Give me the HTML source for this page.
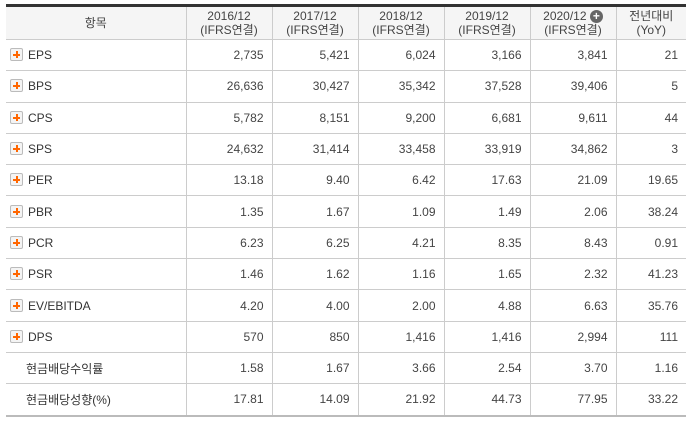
<!DOCTYPE html>
<html><head><meta charset="utf-8">
<style>
body{margin:0;background:#fff;width:696px;height:422px;overflow:hidden;font-family:"Liberation Sans","Noto Sans CJK KR",sans-serif;font-size:12px;color:#333}
table{position:absolute;left:6px;top:4px;width:680px;border-collapse:collapse;table-layout:fixed;border-top:3px solid #333;border-bottom:2px solid #bbb}
th{background:#f5f5f5;font-weight:normal;height:32px;line-height:14px;border-bottom:1px solid #ccc;border-left:1px solid #ccc;color:#444;padding:0}
th:first-child{border-left:none}
td{height:30.3px;border-bottom:1px solid #ccc;border-left:1px solid #ccc;text-align:right;padding:0 8px 0 0;color:#444}
td:first-child{border-left:none;text-align:left;padding-left:4px;color:#333}
td.ni:first-child{padding-left:20px}
.pl{display:inline-block;width:11px;height:11px;border:1px solid #bbb;border-radius:2px;background:#f4f4f4;vertical-align:-2px;margin-right:5px;position:relative}
.pl:before{content:"";position:absolute;left:2px;top:5px;width:7px;height:2px;background:#f60}
.pl:after{content:"";position:absolute;left:5px;top:2px;width:2px;height:7px;background:#f60}
.circ{display:inline-block;width:13px;height:13px;border-radius:50%;background:#666;color:#fff;font-size:12px;line-height:13px;text-align:center;font-weight:bold;vertical-align:0}
</style></head><body>
<table>
<colgroup><col style="width:180px"><col style="width:86px"><col style="width:86px"><col style="width:86px"><col style="width:86px"><col style="width:86px"><col style="width:70px"></colgroup>
<tr>
<th>항목</th>
<th>2016/12<br>(IFRS연결)</th>
<th>2017/12<br>(IFRS연결)</th>
<th>2018/12<br>(IFRS연결)</th>
<th>2019/12<br>(IFRS연결)</th>
<th>2020/12 <span class="circ">+</span><br>(IFRS연결)</th>
<th>전년대비<br>(YoY)</th>
</tr>
<tr><td><span class="pl"></span>EPS</td><td>2,735</td><td>5,421</td><td>6,024</td><td>3,166</td><td>3,841</td><td>21</td></tr>
<tr><td><span class="pl"></span>BPS</td><td>26,636</td><td>30,427</td><td>35,342</td><td>37,528</td><td>39,406</td><td>5</td></tr>
<tr><td><span class="pl"></span>CPS</td><td>5,782</td><td>8,151</td><td>9,200</td><td>6,681</td><td>9,611</td><td>44</td></tr>
<tr><td><span class="pl"></span>SPS</td><td>24,632</td><td>31,414</td><td>33,458</td><td>33,919</td><td>34,862</td><td>3</td></tr>
<tr><td><span class="pl"></span>PER</td><td>13.18</td><td>9.40</td><td>6.42</td><td>17.63</td><td>21.09</td><td>19.65</td></tr>
<tr><td><span class="pl"></span>PBR</td><td>1.35</td><td>1.67</td><td>1.09</td><td>1.49</td><td>2.06</td><td>38.24</td></tr>
<tr><td><span class="pl"></span>PCR</td><td>6.23</td><td>6.25</td><td>4.21</td><td>8.35</td><td>8.43</td><td>0.91</td></tr>
<tr><td><span class="pl"></span>PSR</td><td>1.46</td><td>1.62</td><td>1.16</td><td>1.65</td><td>2.32</td><td>41.23</td></tr>
<tr><td><span class="pl"></span>EV/EBITDA</td><td>4.20</td><td>4.00</td><td>2.00</td><td>4.88</td><td>6.63</td><td>35.76</td></tr>
<tr><td><span class="pl"></span>DPS</td><td>570</td><td>850</td><td>1,416</td><td>1,416</td><td>2,994</td><td>111</td></tr>
<tr><td class="ni">현금배당수익률</td><td>1.58</td><td>1.67</td><td>3.66</td><td>2.54</td><td>3.70</td><td>1.16</td></tr>
<tr><td class="ni">현금배당성향(%)</td><td>17.81</td><td>14.09</td><td>21.92</td><td>44.73</td><td>77.95</td><td>33.22</td></tr>
</table>
</body></html>
